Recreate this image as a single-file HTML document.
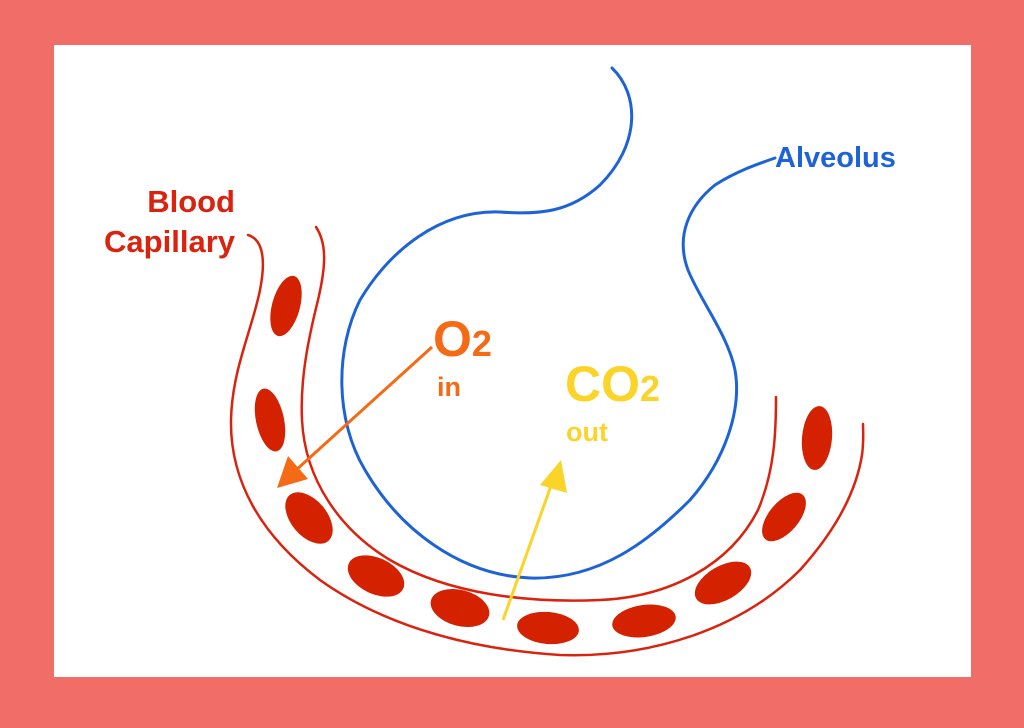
<!DOCTYPE html>
<html><head><meta charset="utf-8"><style>
html,body{margin:0;padding:0;width:1024px;height:728px;overflow:hidden;background:#F06D68}
svg{display:block}
text{font-family:"Liberation Sans",sans-serif;font-weight:bold}
</style></head><body>
<svg width="1024" height="728" viewBox="0 0 1024 728">
<rect x="0" y="0" width="1024" height="728" fill="#F06D68"/>
<rect x="54" y="45" width="917" height="632" fill="#ffffff"/>
<g fill="none" stroke-linecap="round" stroke-linejoin="round">
<path stroke="#1E63D6" stroke-width="3"
 d="M612,68 C640,95 640,145 600,185 C570,212 540,215 500,212 C440,210 390,250 360,300 C335,350 335,420 365,470 C400,530 460,575 530,578 C600,580 650,540 690,500 C725,460 742,410 735,370 C728,335 700,300 688,270 C675,235 690,205 715,185 C735,172 755,165 775,158"/>
<path stroke="#D9230F" stroke-width="2.5"
 d="M316,227 C328,245 325,270 318,300 C308,340 300,380 302,420 C305,480 340,530 390,560 C450,595 530,603 600,600 C670,597 730,565 758,510 C775,470 776,430 776,397"/>
<path stroke="#D9230F" stroke-width="2.5"
 d="M248,235 C265,240 265,265 260,290 C252,330 232,370 231,420 C230,480 260,535 320,580 C390,630 480,650 560,655 C650,658 740,630 800,570 C845,520 858,480 862,455 C864,440 863,430 863,424"/>
</g>
<g fill="#D42200">
<ellipse cx="286" cy="306" rx="14" ry="31" transform="rotate(15 286 306)"/>
<ellipse cx="270" cy="420" rx="14" ry="32" transform="rotate(-12 270 420)"/>
<ellipse cx="309" cy="518" rx="18" ry="30" transform="rotate(-40 309 518)"/>
<ellipse cx="376" cy="576" rx="30" ry="18" transform="rotate(25 376 576)"/>
<ellipse cx="460" cy="608" rx="30" ry="18" transform="rotate(15 460 608)"/>
<ellipse cx="548" cy="628" rx="31" ry="16" transform="rotate(5 548 628)"/>
<ellipse cx="644" cy="621" rx="32" ry="16" transform="rotate(-8 644 621)"/>
<ellipse cx="723" cy="583" rx="31" ry="17" transform="rotate(-30 723 583)"/>
<ellipse cx="784" cy="517" rx="15" ry="29" transform="rotate(40 784 517)"/>
<ellipse cx="817" cy="438" rx="15" ry="32" transform="rotate(5 817 438)"/>
</g>
<g>
<line x1="432" y1="347" x2="295" y2="471" stroke="#F56A14" stroke-width="3"/>
<polygon points="277,488 288,456 308,479" fill="#F56A14"/>
</g>
<g>
<line x1="503" y1="620" x2="552" y2="483" stroke="#FBD42A" stroke-width="3"/>
<polygon points="561,460 567,493 540,485" fill="#FBD42A"/>
</g>
<text x="235" y="212" text-anchor="end" font-size="31" fill="#D9230F">Blood</text>
<text x="235" y="252" text-anchor="end" font-size="31" fill="#D9230F">Capillary</text>
<text x="775" y="167" font-size="29" fill="#1E63D6">Alveolus</text>
<text x="433" y="356" font-size="50" fill="#F56A14">O<tspan font-size="36">2</tspan></text>
<text x="437" y="396" font-size="27" fill="#F56A14">in</text>
<text x="565" y="401" font-size="50" fill="#FBD42A">CO<tspan font-size="36">2</tspan></text>
<text x="566" y="441" font-size="27" fill="#FBD42A">out</text>
</svg>
</body></html>
